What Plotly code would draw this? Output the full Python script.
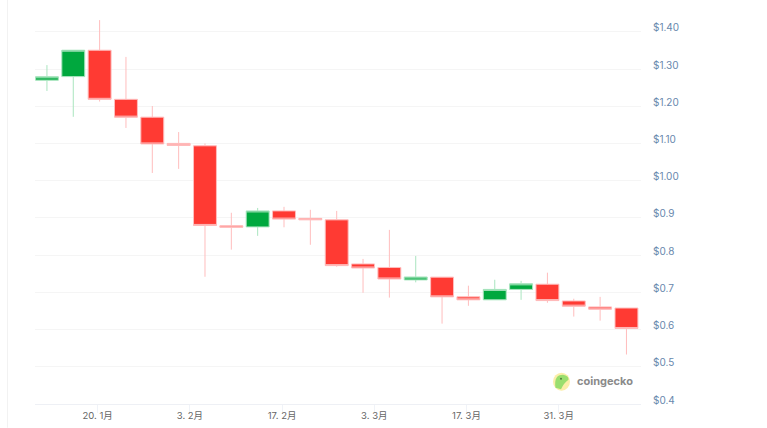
import plotly.graph_objects as go

dates = ["2025-01-12 07:00","2025-01-16 07:00","2025-01-20 07:00","2025-01-24 07:00","2025-01-28 07:00","2025-02-01 07:00",
         "2025-02-05 07:00","2025-02-09 07:00","2025-02-13 07:00","2025-02-17 07:00","2025-02-21 07:00","2025-02-25 07:00",
         "2025-03-01 07:00","2025-03-05 07:00","2025-03-09 07:00","2025-03-13 07:00","2025-03-17 07:00","2025-03-21 07:00",
         "2025-03-25 07:00","2025-03-29 07:00","2025-04-02 07:00","2025-04-06 07:00","2025-04-10 07:00"]
opens  = [1.2705,1.280,1.351,1.219,1.171,1.1005,1.094,0.879,0.876,0.919,0.899,0.895,0.7765,0.767,0.7335,0.741,0.688,0.680,0.708,0.722,0.677,0.661,0.658]
highs  = [1.311,1.351,1.432,1.333,1.201,1.131,1.1005,0.914,0.927,0.930,0.922,0.919,0.790,0.868,0.798,0.741,0.718,0.734,0.731,0.753,0.683,0.688,0.658]
lows   = [1.2415,1.172,1.213,1.142,1.021,1.032,0.742,0.815,0.852,0.875,0.828,0.769,0.699,0.686,0.727,0.616,0.664,0.680,0.680,0.672,0.635,0.624,0.533]
closes = [1.2795,1.351,1.219,1.171,1.099,1.095,0.880,0.875,0.919,0.897,0.895,0.772,0.7655,0.736,0.7415,0.688,0.680,0.708,0.723,0.678,0.663,0.655,0.603]

y_ticks = [0.4,0.5,0.6,0.7,0.8,0.9,1.0,1.1,1.2,1.3,1.4]
y_labels = ["$0.4","$0.5","$0.6","$0.7","$0.8","$0.9","$1.00","$1.10","$1.20","$1.30","$1.40"]
x_ticks = ["2025-01-20","2025-02-03","2025-02-17","2025-03-03","2025-03-17","2025-03-31"]
x_labels = ["20. 1月","3. 2月","17. 2月","3. 3月","17. 3月","31. 3月"]

W, H = 767, 428
L, R, T, B = 35, 641, 5, 404.3
px = lambda x: (x - L) / (R - L)
py = lambda y: (B - y) / (B - T)

fig = go.Figure(go.Candlestick(
    x=dates, open=opens, high=highs, low=lows, close=closes,
    increasing=dict(line=dict(color="#a9e5bf", width=1), fillcolor="#00a83e"),
    decreasing=dict(line=dict(color="#ffbdbd", width=1), fillcolor="#ff3a33"),
    whiskerwidth=0, showlegend=False, hoverinfo="skip",
))

shapes = [
    dict(type="line", xref="paper", yref="paper", x0=px(7.5), x1=px(7.5), y0=py(0), y1=py(428),
         line=dict(color="#f2f2f2", width=1)),
    dict(type="circle", xref="paper", yref="paper", x0=px(553), x1=px(570), y0=py(391), y1=py(373),
         fillcolor="#fbeea8", line=dict(width=0)),
    dict(type="path", xref="paper", yref="paper",
         path="M {} {} Q {} {} {} {} Q {} {} {} {} Q {} {} {} {} Z".format(
             px(555.5), py(388), px(553.5), py(375), px(563), py(375),
             px(569), py(376), px(568.5), py(380),
             px(564), py(383), px(561), py(389.5)),
         fillcolor="#9ade6e", line=dict(width=0)),
    dict(type="circle", xref="paper", yref="paper", x0=px(560), x1=px(562), y0=py(380), y1=py(378),
         fillcolor="#4f7a3a", line=dict(width=0)),
]

fig.update_layout(
    width=W, height=H,
    margin=dict(l=L, r=W - R, t=T, b=H - B, pad=0, autoexpand=False),
    paper_bgcolor="white", plot_bgcolor="white",
    boxgap=0.13, boxgroupgap=0,
    shapes=shapes,
    xaxis=dict(type="date", range=["2025-01-10 11:30","2025-04-12 12:00"], automargin=False,
               tickvals=x_ticks, ticktext=x_labels, ticks="outside", ticklen=8, tickcolor="#f0f3f8",
               ticklabelstandoff=-5,
               showgrid=False, zeroline=False, showline=True, linecolor="#eef0f5", linewidth=1,
               rangeslider=dict(visible=False),
               tickfont=dict(family="Inter, 'Noto Sans CJK JP', sans-serif", size=9.5, color="#666666")),
    yaxis=dict(side="right", range=[0.4, 0.4 + (B - T) / 372.3], automargin=False,
               tickvals=y_ticks, ticktext=y_labels, ticks="",
               gridcolor="#f5f5f5", gridwidth=1, zeroline=False, showline=False,
               ticklabelstandoff=11, ticklabelshift=-4,
               tickfont=dict(family="Inter, sans-serif", size=10, color="#6888ad")),
    annotations=[dict(xref="paper", yref="paper", x=px(575), y=py(381.5), xanchor="left", yanchor="middle",
                      text="<b>coingecko</b>", showarrow=False,
                      font=dict(family="Inter, sans-serif", size=11, color="#8a8a8a"))],
)
fig.write_html("out.html", post_script="document.body.style.margin='0';", config=dict(displayModeBar=False))
